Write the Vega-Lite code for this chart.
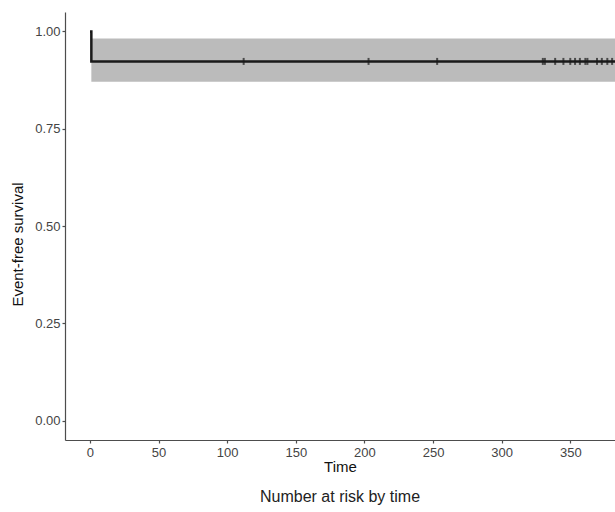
{
  "$schema": "https://vega.github.io/schema/vega-lite/v6.json",
  "width": 550,
  "height": 428,
  "autosize": "none",
  "padding": {"left": 65, "top": 12, "right": 0, "bottom": 72},
  "background": "white",
  "config": {
    "view": {"stroke": null},
    "font": "Liberation Sans",
    "axis": {
      "grid": false,
      "domainColor": "#4d4d4d",
      "domainWidth": 1.2,
      "tickColor": "#4d4d4d",
      "tickWidth": 1.2,
      "tickSize": 3,
      "labelFont": "Liberation Sans",
      "labelFontSize": 13,
      "labelColor": "#444444",
      "titleFont": "Liberation Sans",
      "titleFontSize": 15,
      "titleFontWeight": "normal",
      "titleColor": "#111"
    }
  },
  "title": {
    "text": "Number at risk by time",
    "orient": "bottom",
    "anchor": "middle",
    "fontSize": 16,
    "fontWeight": "normal",
    "font": "Liberation Sans",
    "color": "#222",
    "offset": 15
  },
  "datasets": {
    "curve": [
      {"time": 0, "surv": 1.0},
      {"time": 1, "surv": 0.923},
      {"time": 383, "surv": 0.923}
    ],
    "band": [
      {"time": 1, "lower": 0.871, "upper": 0.982},
      {"time": 383, "lower": 0.871, "upper": 0.982}
    ],
    "censor": [
      {"time": 112, "surv": 0.923},
      {"time": 203, "surv": 0.923},
      {"time": 253, "surv": 0.923},
      {"time": 330, "surv": 0.923},
      {"time": 331.5, "surv": 0.923},
      {"time": 339, "surv": 0.923},
      {"time": 345, "surv": 0.923},
      {"time": 350, "surv": 0.923},
      {"time": 353.5, "surv": 0.923},
      {"time": 357, "surv": 0.923},
      {"time": 361, "surv": 0.923},
      {"time": 362.5, "surv": 0.923},
      {"time": 369.5, "surv": 0.923},
      {"time": 373, "surv": 0.923},
      {"time": 377, "surv": 0.923},
      {"time": 380.5, "surv": 0.923}
    ]
  },
  "encoding": {
    "x": {
      "field": "time",
      "type": "quantitative",
      "scale": {"domain": [-18.2, 382.6], "nice": false, "zero": false},
      "axis": {"values": [0, 50, 100, 150, 200, 250, 300, 350], "title": "Time", "titlePadding": 0, "labelPadding": 3, "labelFlush": false}
    }
  },
  "layer": [
    {
      "data": {"name": "band"},
      "mark": {"type": "area", "color": "#bbbbbb", "opacity": 1, "clip": true},
      "encoding": {
        "y": {
          "field": "lower",
          "type": "quantitative",
          "scale": {"domain": [-0.05, 1.05], "nice": false, "zero": false},
          "axis": {"values": [0, 0.25, 0.5, 0.75, 1], "format": ".2f", "title": "Event-free survival", "titlePadding": 9, "titleY": 232, "labelPadding": 2}
        },
        "y2": {"field": "upper"}
      }
    },
    {
      "data": {"name": "curve"},
      "mark": {"type": "line", "interpolate": "step-after", "color": "#1a1a1a", "strokeWidth": 2.5, "clip": true},
      "encoding": {
        "y": {"field": "surv", "type": "quantitative"}
      }
    },
    {
      "data": {"name": "censor"},
      "mark": {"type": "tick", "orient": "vertical", "color": "#1a1a1a", "size": 7, "thickness": 2, "clip": true},
      "encoding": {
        "y": {"field": "surv", "type": "quantitative"}
      }
    }
  ]
}
